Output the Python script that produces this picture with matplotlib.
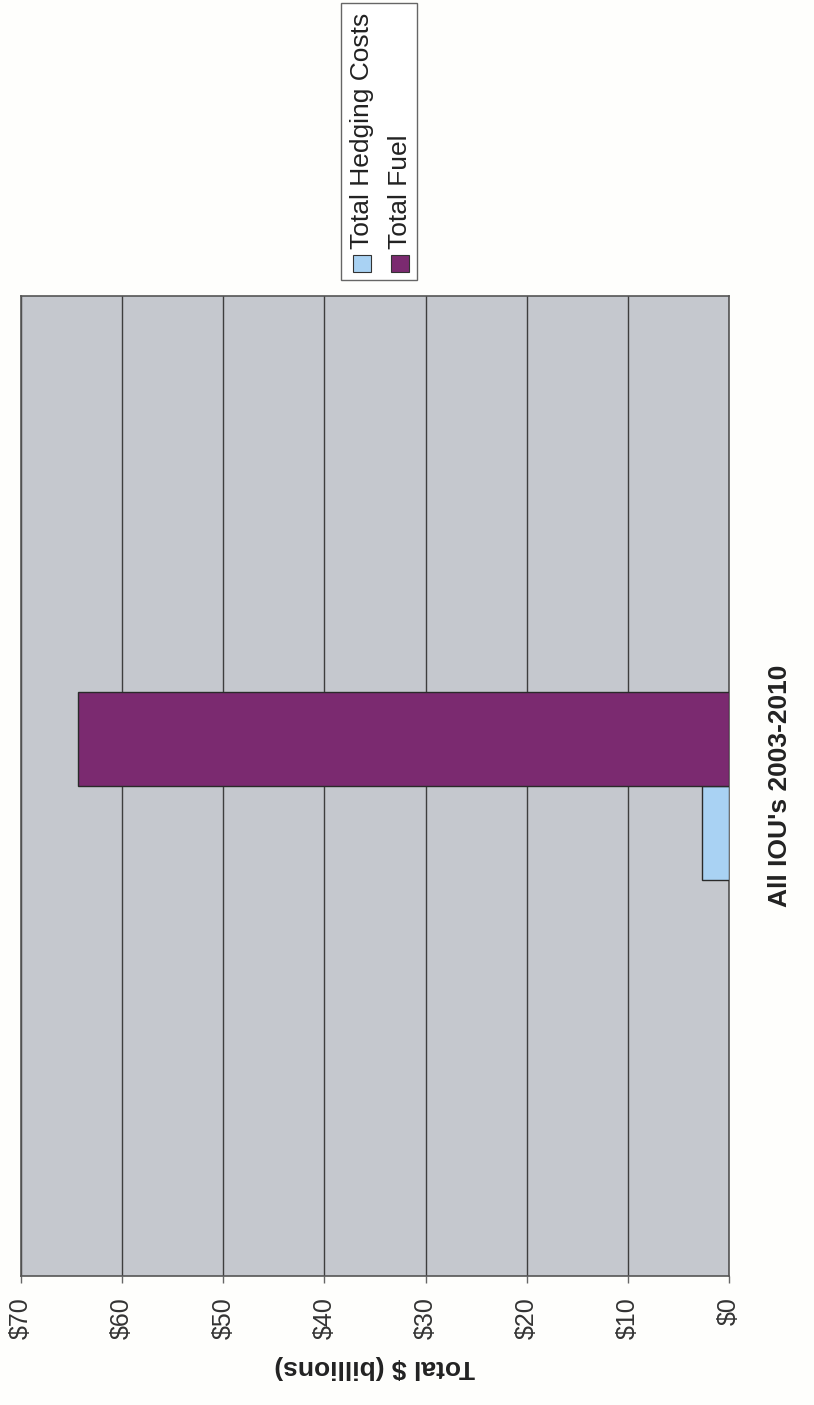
import matplotlib
matplotlib.use('Agg')
import matplotlib.pyplot as plt
from matplotlib.patches import Rectangle

plt.rcParams['font.family'] = ['Liberation Sans', 'DejaVu Sans']

# data (chart is printed turned on its side)
categories = ["All IOU's 2003-2010"]
series = ['Total Hedging Costs', 'Total Fuel']
hedging = [2.7]
fuel = [64.4]
ticks = [0, 10, 20, 30, 40, 50, 60, 70]
tick_labels = ['$0', '$10', '$20', '$30', '$40', '$50', '$60', '$70']

colors = ['#a9d2f3', '#7b2a70']
W, H = 814, 1405

fig = plt.figure(figsize=(W / 100, H / 100), dpi=100)
fig.patch.set_facecolor('#fefefc')

# axes box in pixels: left 21, right 729, top 296, bottom 1276
ax = fig.add_axes([21 / W, 1 - 1276 / H, (729 - 21) / W, (1276 - 296) / H])
ax.set_facecolor('#c5c8ce')

h = 0.096
pos = list(range(len(categories)))
ax.barh([p - h / 2 for p in pos], hedging, height=h, color=colors[0],
        edgecolor='#2a2a2a', linewidth=1, zorder=3)
ax.barh([p + h / 2 for p in pos], fuel, height=h, color=colors[1],
        edgecolor='#2a2a2a', linewidth=1, zorder=3)

ax.set_xlim(70, 0)
ax.set_ylim(-0.5, 0.5)
ax.set_xticks(ticks)
ax.set_xticklabels(tick_labels, rotation=90, fontsize=18, color='#333333')
ax.tick_params(axis='x', length=5, width=1, color='#666666', pad=10)
ax.grid(axis='x', color='#3e3e3e', linewidth=1, zorder=1)

ax.yaxis.tick_right()
ax.set_yticks(pos)
ax.set_yticklabels(categories, rotation=90, fontsize=19, fontweight='bold',
                   color='#222222', va='center')
ax.tick_params(axis='y', length=0, pad=28)

for s in ax.spines.values():
    s.set_color('#555555')
    s.set_linewidth(1.2)

ax.set_xlabel('Total $ (billions)', fontsize=19, fontweight='bold',
              rotation=180, color='#222222')
ax.xaxis.set_label_coords(0.5, -(1367 - 1276) / (1276 - 296))
ax.xaxis.label.set_va('center')

# legend, drawn by hand so the text can be turned
def fx(x):
    return x / W

def fy(y):
    return 1 - y / H

fig.patches.append(Rectangle((fx(341), fy(280)), fx(417) - fx(341), fy(3) - fy(280),
                             transform=fig.transFigure, facecolor='white',
                             edgecolor='#666666', linewidth=1))
for i, (name, c) in enumerate(zip(series, colors)):
    xc = 362 + i * 38
    fig.patches.append(Rectangle((fx(xc - 9), fy(272)), fx(18), 17 / H,
                                 transform=fig.transFigure, facecolor=c,
                                 edgecolor='#333333', linewidth=0.8))
    fig.text(fx(xc), fy(249), name, rotation=90, ha='center', va='bottom',
             fontsize=19, color='#222222')

fig.savefig('out.png', dpi=100, facecolor=fig.get_facecolor())
